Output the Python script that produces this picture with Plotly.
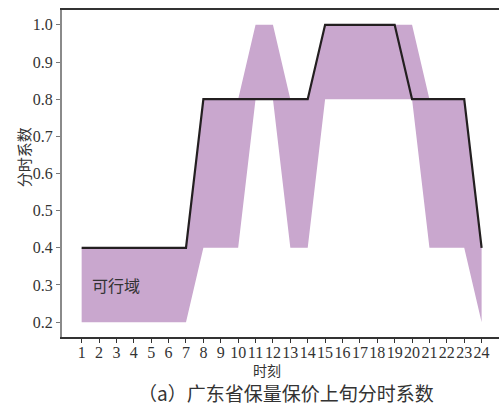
import plotly.graph_objects as go

# 时刻 1..24
hours = list(range(1, 25))

# 可行域上下界
upper_bound = [0.4, 0.4, 0.4, 0.4, 0.4, 0.4, 0.4,
               0.8, 0.8, 0.8, 1.0, 1.0, 0.8, 0.8,
               1.0, 1.0, 1.0, 1.0, 1.0, 1.0,
               0.8, 0.8, 0.8, 0.4]
lower_bound = [0.2, 0.2, 0.2, 0.2, 0.2, 0.2, 0.2,
               0.4, 0.4, 0.4, 0.8, 0.8, 0.4, 0.4,
               0.8, 0.8, 0.8, 0.8, 0.8, 0.8,
               0.4, 0.4, 0.4, 0.2]

# 分时系数
coef = [0.4, 0.4, 0.4, 0.4, 0.4, 0.4, 0.4,
        0.8, 0.8, 0.8, 0.8, 0.8, 0.8, 0.8,
        1.0, 1.0, 1.0, 1.0, 1.0,
        0.8, 0.8, 0.8, 0.8, 0.4]

y_ticks = [0.2, 0.3, 0.4, 0.5, 0.6, 0.7, 0.8, 0.9, 1.0]

FILL = "#C9A7CE"
DARK = "#231F20"
SERIF = "Times New Roman, Liberation Serif, DejaVu Serif, serif"
CJK = "Noto Sans CJK SC"

fig = go.Figure()
fig.add_trace(go.Scatter(x=hours, y=lower_bound, mode="lines",
                         line=dict(width=0, color=FILL), hoverinfo="skip",
                         showlegend=False))
fig.add_trace(go.Scatter(x=hours, y=upper_bound, mode="lines",
                         line=dict(width=0, color=FILL), fill="tonexty",
                         fillcolor=FILL, showlegend=False))
fig.add_trace(go.Scatter(x=hours, y=coef, mode="lines",
                         line=dict(width=2.2, color=DARK), showlegend=False))

fig.add_annotation(x=3, y=0.3, text="可行域", showarrow=False,
                   font=dict(family=CJK, size=16, color="#333333"))

fig.update_xaxes(range=[-0.13, 25.0], tickmode="array", tickvals=hours,
                 ticktext=[str(h) for h in hours], tickangle=0,
                 ticks="outside", ticklen=4, ticklabelstandoff=-4,
                 tickcolor="#333333", tickwidth=1.2,
                 showline=True, linecolor="#333333", linewidth=1.5, mirror=True,
                 showgrid=False, zeroline=False,
                 tickfont=dict(family=SERIF, size=16, color="#333333"))
fig.update_yaxes(range=[0.16, 1.04], tickmode="array", tickvals=y_ticks,
                 ticktext=[f"{v:.1f}" for v in y_ticks], ticks="outside",
                 ticklen=4, tickcolor="#777777", tickwidth=1.2,
                 showline=True, linecolor="#8a8a8a", linewidth=2,
                 showgrid=False, zeroline=False,
                 tickfont=dict(family=SERIF, size=16, color="#333333"))

# 坐标轴标题与图注
fig.add_annotation(xref="paper", yref="paper", x=0.47, y=-0.101,
                   text="时刻", showarrow=False, yanchor="middle",
                   font=dict(family=CJK, size=14, color="#333333"))
fig.add_annotation(xref="paper", yref="paper", x=-0.089, y=0.55,
                   text="分时系数", showarrow=False, textangle=-90,
                   xanchor="center", yanchor="middle",
                   font=dict(family=CJK, size=15, color="#333333"))
fig.add_annotation(xref="paper", yref="paper", x=0.512, y=-0.17,
                   text="（a）广东省保量保价上旬分时系数", showarrow=False,
                   yanchor="middle",
                   font=dict(family=CJK, size=19, color="#333333"))

fig.update_layout(width=499, height=405,
                  margin=dict(l=62, r=0, t=10, b=68),
                  paper_bgcolor="white", plot_bgcolor="white")

fig.write_html("out.html")
